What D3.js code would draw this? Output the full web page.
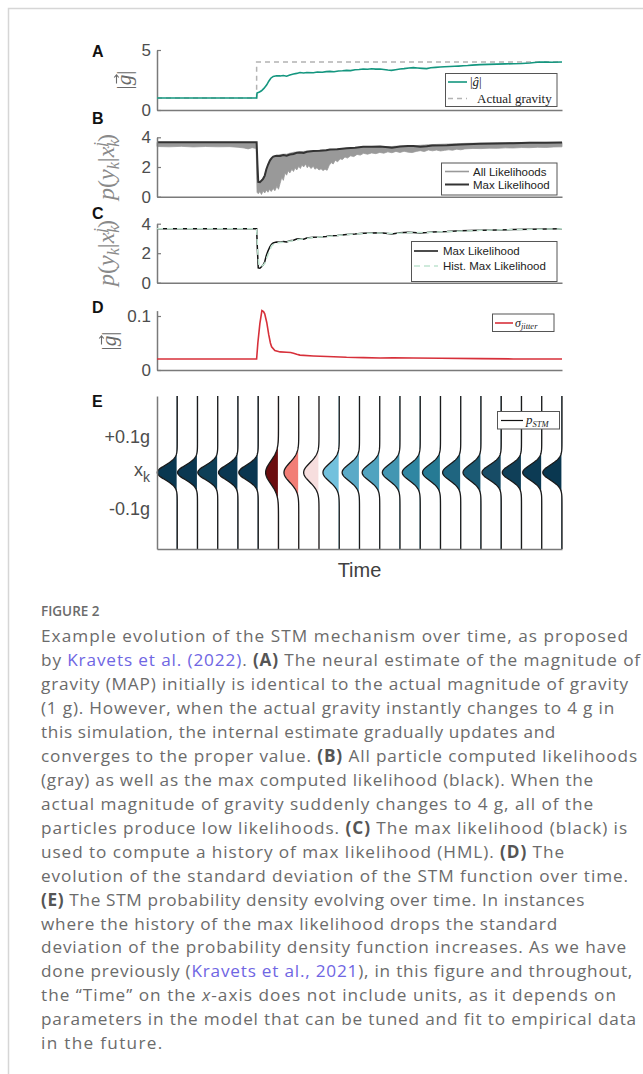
<!DOCTYPE html>
<html>
<head>
<meta charset="utf-8">
<script src="https://cdn.jsdelivr.net/npm/d3@7"></script>
<style>
  body { margin: 0; background: #fff; }
  svg { display: block; }
</style>
</head>
<body>
<div id="chart"></div>
<script>
// time runs 0..100, gravity steps from 1 g to 4 g at t = 24.6
const actualGravity = [[0, 1], [24.6, 1], [24.6, 4], [100, 4]];

const gHat = [[0,1.0],[24.6,1.0],[24.7,1.42],[25.3,1.5],[25.8,1.6],[26.4,1.8],[27.1,2.1],[27.6,2.4],[28.1,2.65],
  [28.7,2.8],[29.5,2.85],[30.4,2.84],[31.2,2.88],[32.0,2.82],[32.8,2.92],[33.7,3.0],[34.5,3.05],[35.3,3.12],
  [36.2,3.08],[37.0,3.13],[38.6,3.1],[39.6,3.16],[40.8,3.14],[41.8,3.2],[42.7,3.22],[43.7,3.19],[44.8,3.25],
  [45.8,3.27],[46.8,3.3],[47.8,3.28],[48.9,3.35],[49.9,3.38],[50.9,3.42],[52,3.4],[53,3.44],[54,3.41],[55.1,3.42],
  [56,3.38],[57,3.33],[57.9,3.3],[58.9,3.36],[60,3.42],[61,3.45],[62.2,3.5],[63.3,3.53],[64.3,3.5],[65.5,3.47],
  [66.6,3.45],[67.6,3.52],[68.8,3.55],[69.9,3.58],[71,3.6],[72.3,3.62],[73.5,3.64],[74.5,3.66],[75.6,3.69],
  [76.7,3.71],[77.8,3.74],[79.8,3.78],[81.8,3.8],[84,3.82],[86,3.84],[88,3.86],[90,3.88],[92.1,3.92],[93.2,3.96],
  [94.6,4.0],[96,3.99],[97.5,3.98],[100,4.0]];

// [t, lowest particle likelihood, highest particle likelihood]
const allLikelihoods = [[0,3.38,3.66],[3,3.36,3.66],[6,3.39,3.66],[9,3.35,3.66],[12,3.38,3.66],[15,3.36,3.66],
  [18,3.37,3.66],[20,3.33,3.66],[21.5,3.28,3.66],[22.5,3.22,3.66],[23.5,3.3,3.66],[24.5,3.25,3.66],
  [24.7,0.3,1.2],[25.0,0.2,1.0],[25.4,0.35,1.05],[25.8,0.15,1.1],[26.2,0.4,1.3],[26.6,0.25,1.45],[27.0,0.45,1.8],
  [27.4,0.3,2.1],[27.8,0.5,2.4],[28.2,0.35,2.58],[28.7,0.55,2.68],[29.1,0.4,2.75],[29.6,0.7,2.78],[30.0,0.5,2.8],
  [30.4,0.9,2.83],[30.8,1.3,2.85],[31.2,1.1,2.86],[31.6,1.6,2.87],[32.0,1.45,2.86],[32.4,1.75,2.9],[32.8,1.6,2.93],
  [33.3,1.85,2.96],[33.7,1.7,2.99],[34.1,1.95,3.0],[34.5,1.8,3.0],[35.0,2.05,3.02],[35.4,1.9,3.03],[35.8,2.15,3.04],
  [36.2,2.0,3.05],[36.7,2.2,3.06],[37.1,1.95,3.07],[37.5,2.1,3.07],[38.0,1.9,3.08],[38.6,2.05,3.08],[39.0,1.85,3.1],
  [39.5,1.95,3.11],[40.0,1.8,3.12],[40.5,1.88,3.13],[41.0,1.76,3.14],[41.5,1.85,3.15],[42.0,1.78,3.16],
  [42.5,2.1,3.17],[43.0,2.3,3.18],[43.5,2.2,3.19],[44.0,2.45,3.2],[44.6,2.35,3.21],[45.2,2.55,3.22],[45.8,2.5,3.24],
  [46.4,2.68,3.25],[47.0,2.6,3.26],[47.8,2.75,3.28],[48.6,2.7,3.3],[49.4,2.85,3.31],[50.2,2.8,3.33],[51.0,2.92,3.34],
  [52,2.86,3.35],[53,2.95,3.36],[54,2.9,3.36],[55,2.98,3.37],[56,2.93,3.37],[57,3.02,3.38],[58,2.96,3.38],
  [59,3.05,3.4],[60,2.98,3.4],[61,3.06,3.41],[62,3.0,3.42],[63,2.97,3.42],[64,3.05,3.44],[65,3.1,3.46],
  [66,3.04,3.48],[67,3.15,3.5],[68,3.09,3.51],[69,3.14,3.52],[70,3.08,3.53],[71,3.12,3.54],[72,3.16,3.55],
  [73,3.13,3.56],[74,3.2,3.57],[75,3.16,3.58],[76,3.22,3.59],[78,3.25,3.6],[80,3.24,3.61],[82,3.27,3.62],
  [84,3.26,3.63],[86,3.29,3.64],[88,3.28,3.65],[90,3.31,3.65],[92,3.3,3.66],[94,3.33,3.66],[96,3.32,3.66],
  [98,3.35,3.66],[100,3.36,3.66]];

const maxLikelihood = [[0,3.66],[24.6,3.66],[24.8,2.2],[25.0,1.0],[25.4,0.98],[25.8,1.08],[26.2,1.2],[26.6,1.42],
  [27.0,1.85],[27.4,2.15],[27.9,2.45],[28.3,2.6],[28.7,2.7],[29.5,2.76],[30.4,2.74],[31.2,2.8],[32.0,2.76],
  [32.8,2.84],[33.7,2.88],[34.5,2.96],[35.3,2.98],[36.2,2.95],[37.0,3.03],[38.6,3.08],[40.2,3.1],[41.8,3.13],
  [42.7,3.18],[44.5,3.2],[46.8,3.27],[48.9,3.3],[50.9,3.36],[53,3.37],[55.1,3.38],[57,3.33],[58,3.3],[60,3.38],
  [62,3.42],[63.3,3.41],[65,3.37],[66.6,3.4],[68,3.44],[71.6,3.47],[75,3.52],[79.8,3.56],[84,3.58],[88,3.6],
  [92,3.63],[96,3.64],[100,3.65]];

const histMaxLikelihood = [[0,3.66],[24.6,3.66],[24.9,2.0],[25.2,1.1],[25.8,1.1],[26.6,1.3],[27.4,1.9],[28.3,2.5],
  [29.1,2.68],[30.4,2.72],[32,2.78],[33.7,2.85],[35.3,2.94],[37,3.0],[38.6,3.06],[42.7,3.15],[46.8,3.26],
  [50.9,3.34],[55.1,3.37],[58,3.33],[60,3.36],[63.3,3.4],[66.6,3.4],[71.6,3.46],[79.8,3.55],[88,3.6],[100,3.65]];

const sigmaJitter = [[0,0.0205],[24.6,0.0205],[24.9,0.05],[25.4,0.086],[25.9,0.11],[26.3,0.108],[26.6,0.104],
  [27.1,0.088],[27.6,0.065],[28.0,0.05],[28.3,0.043],[29.1,0.036],[30.4,0.0335],[32.0,0.033],[33.0,0.0325],
  [33.7,0.031],[34.5,0.029],[35.3,0.0275],[38.6,0.026],[42,0.025],[46.8,0.0235],[51,0.023],[55.1,0.0222],
  [58.3,0.0226],[63.3,0.0222],[70,0.0218],[79.8,0.021],[88,0.0205],[100,0.0205]];

// panel E: one STM density per time slice
const stmSigma = [0.020, 0.020, 0.020, 0.0205, 0.0205, 0.031, 0.027, 0.026, 0.0245, 0.023,
  0.0227, 0.0226, 0.0222, 0.0222, 0.022, 0.0222, 0.0208, 0.0208, 0.021, 0.0208];
const stmColors = ["#093750", "#0a3751", "#0e3f57", "#0a3751", "#0a3650", "#6b0d0f", "#f27e76", "#f7dede",
  "#72c1dd", "#5aaac7", "#51a3bf", "#4396b2", "#2f86a2", "#267a94", "#1f6580", "#1b5a74", "#174c66",
  "#0f3f58", "#0c3b54", "#093750"];
const stmTicks = [0.1, 0, -0.1];
const stmTickLabels = ["+0.1g", "x", "-0.1g"];

const captionLines = [
  [["Example evolution of the STM mechanism over time, as proposed", "n"]],
  [["by ", "n"], ["Kravets et al. (2022)", "l"], [". ", "n"], ["(A)", "b"], [" The neural estimate of the magnitude of", "n"]],
  [["gravity (MAP) initially is identical to the actual magnitude of gravity", "n"]],
  [["(1 g). However, when the actual gravity instantly changes to 4 g in", "n"]],
  [["this simulation, the internal estimate gradually updates and", "n"]],
  [["converges to the proper value. ", "n"], ["(B)", "b"], [" All particle computed likelihoods", "n"]],
  [["(gray) as well as the max computed likelihood (black). When the", "n"]],
  [["actual magnitude of gravity suddenly changes to 4 g, all of the", "n"]],
  [["particles produce low likelihoods. ", "n"], ["(C)", "b"], [" The max likelihood (black) is", "n"]],
  [["used to compute a history of max likelihood (HML). ", "n"], ["(D)", "b"], [" The", "n"]],
  [["evolution of the standard deviation of the STM function over time.", "n"]],
  [["(E)", "b"], [" The STM probability density evolving over time. In instances", "n"]],
  [["where the history of the max likelihood drops the standard", "n"]],
  [["deviation of the probability density function increases. As we have", "n"]],
  [["done previously (", "n"], ["Kravets et al., 2021", "l"], ["), in this figure and throughout,", "n"]],
  [["the \u201cTime\u201d on the ", "n"], ["x", "i"], ["-axis does not include units, as it depends on", "n"]],
  [["parameters in the model that can be tuned and fit to empirical data", "n"]],
  [["in the future.", "n"]]
];
// right edge of each caption line in the reference
const captionEnds = [629, 641, 629, 615, 556, 638, 594, 594, 628, 565, 629, 585, 558, 627, 633, 617, 637, 178];

const W = 643, H = 1074;
const sans = "'Liberation Sans', Arial, sans-serif";
const serif = "'Liberation Serif', 'DejaVu Serif', serif";
const axisColor = "#7a7a7a";
const tickColor = "#4d4d4d";

const svg = d3.select("#chart").append("svg")
  .attr("width", W)
  .attr("height", H);

// page frame
svg.append("path")
  .attr("d", `M8.5,${H} V8.5 H${W}`)
  .attr("fill", "none")
  .attr("stroke", "#d6d6d6")
  .attr("stroke-width", 1.5);

const x = d3.scaleLinear().domain([0, 100]).range([157, 562]);

function makeAxes(y, ticks, fmt) {
  const g = svg.append("g");
  g.append("g")
    .attr("transform", `translate(${x.range()[0]},0)`)
    .call(d3.axisLeft(y).tickValues(ticks).tickSize(-4).tickSizeOuter(0).tickPadding(6).tickFormat(fmt || d3.format("d")))
    .call(a => a.select(".domain").attr("stroke", axisColor).attr("stroke-width", 1.5))
    .call(a => a.selectAll(".tick line").attr("stroke", axisColor).attr("stroke-width", 1.2))
    .call(a => a.selectAll(".tick text").attr("fill", tickColor).attr("font-size", 17).attr("font-family", sans));
  g.append("g")
    .attr("transform", `translate(0,${y.range()[0]})`)
    .call(d3.axisBottom(x).tickValues([]).tickSizeOuter(0))
    .call(a => a.select(".domain").attr("stroke", axisColor).attr("stroke-width", 1.5));
  return g;
}

function panelLetter(label, yBase) {
  svg.append("text")
    .attr("x", 92).attr("y", yBase)
    .attr("font-family", sans).attr("font-weight", "bold").attr("font-size", 16)
    .attr("fill", "#111")
    .text(label);
}

function legendBox(x0, y0, w, h) {
  const g = svg.append("g");
  g.append("rect")
    .attr("x", x0).attr("y", y0).attr("width", w).attr("height", h)
    .attr("fill", "#fff").attr("stroke", "#555").attr("stroke-width", 1);
  return g;
}

// |g| with a vector arrow, rotated like a MATLAB ylabel
function gvecLabel(cx, cy) {
  const g = svg.append("g").attr("transform", `translate(${cx},${cy}) rotate(-90)`);
  const t = g.append("text")
    .attr("text-anchor", "middle").attr("y", 5)
    .attr("font-family", serif).attr("font-size", 21).attr("fill", "#6a6a6a");
  t.append("tspan").text("|");
  t.append("tspan").attr("font-style", "italic").text("g");
  t.append("tspan").text("|");
  g.append("path")
    .attr("d", "M-3.5,-9.5 H5 M2.5,-11.8 L5.2,-9.5 L2.5,-7.2")
    .attr("fill", "none").attr("stroke", "#6a6a6a").attr("stroke-width", 1.1);
}

function likLabel(cx, cy) {
  const t = svg.append("text")
    .attr("transform", `translate(${cx},${cy}) rotate(-90)`)
    .attr("text-anchor", "middle").attr("y", 6)
    .attr("font-family", serif).attr("font-size", 24).attr("fill", "#8a8a8a");
  t.append("tspan").attr("font-style", "italic").text("p");
  t.append("tspan").text("(");
  t.append("tspan").attr("font-style", "italic").text("y");
  t.append("tspan").attr("font-style", "italic").attr("font-size", 16).attr("dy", 5).text("k");
  t.append("tspan").attr("dy", -5).text("|");
  t.append("tspan").attr("font-style", "italic").text("x");
  t.append("tspan").attr("font-style", "italic").attr("font-size", 16).attr("dy", 5).text("k");
  t.append("tspan").attr("font-style", "italic").attr("font-size", 16).attr("dx", -7).attr("dy", -14).text("j");
  t.append("tspan").attr("dy", 9).text(")");
}

// ---------- Panel A ----------
const yA = d3.scaleLinear().domain([0, 5]).range([110, 50]);
makeAxes(yA, [0, 5]);
panelLetter("A", 57);
gvecLabel(126, 80);

const lineA = d3.line().x(d => x(d[0])).y(d => yA(d[1]));
svg.append("path").datum(actualGravity)
  .attr("d", lineA).attr("fill", "none")
  .attr("stroke", "#b3b3b3").attr("stroke-width", 1.5).attr("stroke-dasharray", "5,4");
svg.append("path").datum(gHat)
  .attr("d", lineA).attr("fill", "none")
  .attr("stroke", "#14967f").attr("stroke-width", 1.6);

const legA = legendBox(445.5, 73.5, 111.5, 33);
legA.append("line").attr("x1", 448).attr("x2", 467).attr("y1", 82).attr("y2", 82)
  .attr("stroke", "#14967f").attr("stroke-width", 1.6);
legA.append("line").attr("x1", 448).attr("x2", 467).attr("y1", 98.5).attr("y2", 98.5)
  .attr("stroke", "#b3b3b3").attr("stroke-width", 1.5).attr("stroke-dasharray", "5,4");
const ghatText = legA.append("text").attr("x", 470).attr("y", 86)
  .attr("font-family", serif).attr("font-size", 13).attr("fill", "#222");
ghatText.append("tspan").text("|");
ghatText.append("tspan").attr("font-style", "italic").text("\u011D");
ghatText.append("tspan").text("|");
legA.append("text").attr("x", 477).attr("y", 102.5)
  .attr("font-family", serif).attr("font-size", 13).attr("fill", "#222")
  .text("Actual gravity");

// ---------- Panel B ----------
const yB = d3.scaleLinear().domain([0, 4]).range([196.7, 137.3]);
panelLetter("B", 124);
likLabel(108, 167);

svg.append("path").datum(allLikelihoods)
  .attr("d", d3.area().x(d => x(d[0])).y0(d => yB(d[1])).y1(d => yB(d[2])))
  .attr("fill", "#999").attr("stroke", "#999").attr("stroke-width", 0.8);
svg.append("path").datum(maxLikelihood)
  .attr("d", d3.line().x(d => x(d[0])).y(d => yB(d[1])))
  .attr("fill", "none").attr("stroke", "#333").attr("stroke-width", 2);
makeAxes(yB, [0, 2, 4]);

const legB = legendBox(441.5, 163, 115.5, 32);
legB.append("line").attr("x1", 445).attr("x2", 469).attr("y1", 171.5).attr("y2", 171.5)
  .attr("stroke", "#999").attr("stroke-width", 1.6);
legB.append("line").attr("x1", 445).attr("x2", 469).attr("y1", 184.5).attr("y2", 184.5)
  .attr("stroke", "#333").attr("stroke-width", 2);
legB.append("text").attr("x", 473).attr("y", 175.5)
  .attr("font-family", sans).attr("font-size", 11.5).attr("fill", "#222").text("All Likelihoods");
legB.append("text").attr("x", 473).attr("y", 188.5)
  .attr("font-family", sans).attr("font-size", 11.5).attr("fill", "#222").text("Max Likelihood");

// ---------- Panel C ----------
const yC = d3.scaleLinear().domain([0, 4]).range([282.7, 223.7]);
makeAxes(yC, [0, 2, 4]);
panelLetter("C", 219);
likLabel(108, 253);

const lineC = d3.line().x(d => x(d[0])).y(d => yC(d[1]));
svg.append("path").datum(maxLikelihood)
  .attr("d", lineC).attr("fill", "none").attr("stroke", "#111").attr("stroke-width", 1.5);
svg.append("path").datum(histMaxLikelihood)
  .attr("d", lineC).attr("fill", "none").attr("stroke", "#bfe3d0").attr("stroke-width", 1.5)
  .attr("stroke-dasharray", "6,4");

const legC = legendBox(411.5, 241.5, 145.5, 40);
legC.append("line").attr("x1", 414).attr("x2", 438).attr("y1", 251).attr("y2", 251)
  .attr("stroke", "#111").attr("stroke-width", 1.5);
legC.append("line").attr("x1", 414).attr("x2", 438).attr("y1", 266).attr("y2", 266)
  .attr("stroke", "#bfe3d0").attr("stroke-width", 1.5).attr("stroke-dasharray", "6,4");
legC.append("text").attr("x", 443).attr("y", 255)
  .attr("font-family", sans).attr("font-size", 11.5).attr("fill", "#222").text("Max Likelihood");
legC.append("text").attr("x", 443).attr("y", 270)
  .attr("font-family", sans).attr("font-size", 11.5).attr("fill", "#222").text("Hist. Max Likelihood");

// ---------- Panel D ----------
const yD = d3.scaleLinear().domain([0, 0.11]).range([370, 310.6]);
makeAxes(yD, [0, 0.1], d => d === 0 ? "0" : d3.format(".1f")(d));
panelLetter("D", 313);
gvecLabel(111, 341);

svg.append("path").datum(sigmaJitter)
  .attr("d", d3.line().x(d => x(d[0])).y(d => yD(d[1])))
  .attr("fill", "none").attr("stroke", "#d7303a").attr("stroke-width", 1.6);

const legD = legendBox(492.5, 314, 61.5, 17.5);
legD.append("line").attr("x1", 495).attr("x2", 513).attr("y1", 323).attr("y2", 323)
  .attr("stroke", "#d7303a").attr("stroke-width", 1.6);
const sigText = legD.append("text").attr("x", 515).attr("y", 326.5)
  .attr("font-family", serif).attr("font-style", "italic").attr("font-size", 12).attr("fill", "#222");
sigText.append("tspan").text("\u03C3");
sigText.append("tspan").attr("font-size", 8.5).attr("dy", 2.5).text("jitter");

// ---------- Panel E ----------
const yE = d3.scaleLinear().domain([-0.21, 0.21]).range([549, 396]);
const slot = d3.scaleLinear().domain([0, stmSigma.length]).range(x.range());
const dens = d3.scaleLinear().domain([0, 20.25]).range([0, slot(1) - slot(0)]);
panelLetter("E", 407);

const ySamples = d3.range(-0.21, 0.2101, 0.002);
stmSigma.forEach((s, i) => {
  const base = slot(i + 1);
  const pdf = v => Math.exp(-(v * v) / (2 * s * s)) / (s * Math.sqrt(2 * Math.PI));
  svg.append("path").datum(ySamples)
    .attr("d", d3.area().y(v => yE(v)).x0(base - 0.6).x1(v => base - dens(pdf(v))))
    .attr("fill", stmColors[i]);
  svg.append("path").datum(ySamples)
    .attr("d", d3.line().y(v => yE(v)).x(v => base - dens(pdf(v))))
    .attr("fill", "none").attr("stroke", "#1a1a1a").attr("stroke-width", 1.3);
});

const axE = svg.append("g");
axE.append("g")
  .attr("transform", `translate(${x.range()[0]},0)`)
  .call(d3.axisLeft(yE).tickValues([]).tickSizeOuter(0))
  .call(a => a.select(".domain").attr("stroke", axisColor).attr("stroke-width", 1.5));
axE.append("g")
  .attr("transform", `translate(0,${yE.range()[0]})`)
  .call(d3.axisBottom(x).tickValues([]).tickSizeOuter(0))
  .call(a => a.select(".domain").attr("stroke", axisColor).attr("stroke-width", 1.5));

stmTicks.forEach((v, i) => {
  const t = axE.append("text")
    .attr("x", 150).attr("y", yE(v)).attr("dy", "0.36em")
    .attr("text-anchor", "end")
    .attr("font-family", sans).attr("font-size", 18).attr("fill", tickColor);
  if (v === 0) {
    t.attr("dy", "0.2em");
    t.append("tspan").text(stmTickLabels[i]);
    t.append("tspan").attr("font-size", 14).attr("dy", 6).text("k");
  } else {
    t.text(stmTickLabels[i]);
  }
});

svg.append("text")
  .attr("x", (x.range()[0] + x.range()[1]) / 2).attr("y", 577)
  .attr("text-anchor", "middle")
  .attr("font-family", sans).attr("font-size", 20).attr("fill", "#404040")
  .text("Time");

const legE = legendBox(497.5, 411.5, 62, 17.5);
legE.append("line").attr("x1", 501).attr("x2", 523).attr("y1", 420.5).attr("y2", 420.5)
  .attr("stroke", "#111").attr("stroke-width", 1.2);
const pText = legE.append("text").attr("x", 526).attr("y", 424)
  .attr("font-family", serif).attr("font-style", "italic").attr("font-size", 13).attr("fill", "#222");
pText.append("tspan").text("p");
pText.append("tspan").attr("font-size", 8.5).attr("dy", 2.5).text("STM");

// ---------- caption ----------
const capX = 41;
const capSize = 17.2;
const cap = svg.append("g").attr("font-family", "'Open Sans', Lato, sans-serif");
cap.append("text")
  .attr("x", capX).attr("y", 616)
  .attr("font-size", 13.5).attr("font-weight", 600).attr("fill", "#6b6b6b")
  .text("FIGURE 2");

const segStyle = {
  n: { fill: "#6b6b6b", weight: 400, style: "normal" },
  b: { fill: "#555", weight: 700, style: "normal" },
  l: { fill: "#6f66e3", weight: 400, style: "normal" },
  i: { fill: "#6b6b6b", weight: 400, style: "italic" }
};
captionLines.forEach((segs, i) => {
  const t = cap.append("text")
    .attr("x", capX).attr("y", 642 + i * 23.96)
    .attr("font-size", capSize);
  segs.forEach(([txt, k]) => {
    t.append("tspan")
      .attr("fill", segStyle[k].fill)
      .attr("font-weight", segStyle[k].weight)
      .attr("font-style", segStyle[k].style)
      .text(txt);
  });
  // the reference face runs wider, so open the tracking to reach its line ends
  const w = t.node().getComputedTextLength();
  const n = segs.reduce((s, d) => s + d[0].length, 0);
  const ls = Math.max(0.2, Math.min(1.3, (captionEnds[i] - capX - w) / n));
  t.attr("letter-spacing", ls.toFixed(3));
});
</script>
</body>
</html>
